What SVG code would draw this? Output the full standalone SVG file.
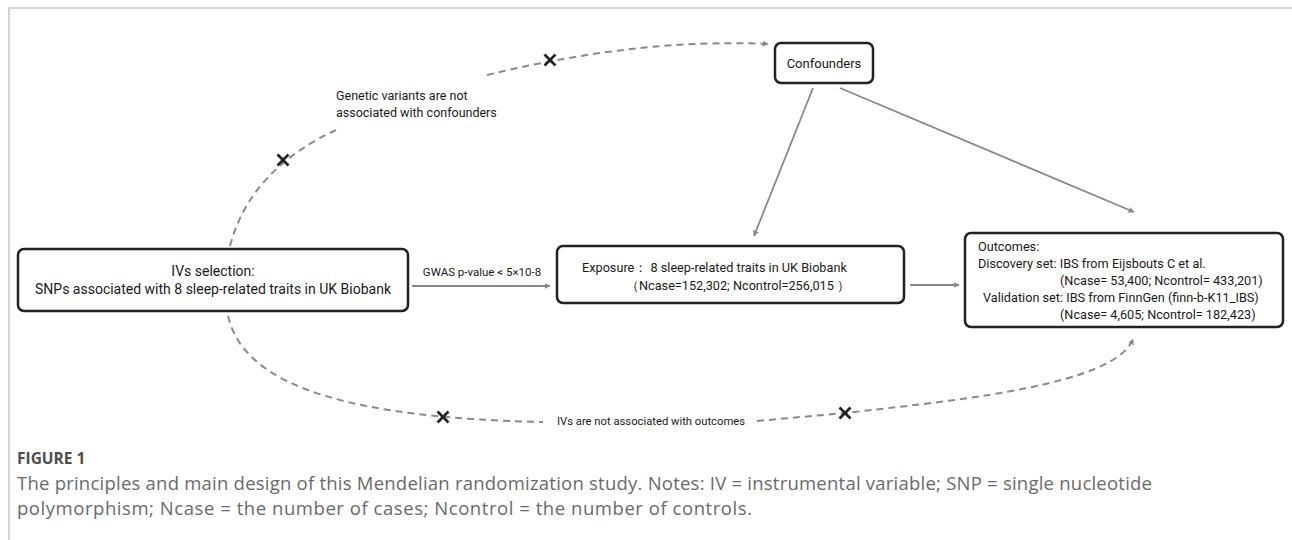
<svg xmlns="http://www.w3.org/2000/svg" width="1292" height="540" viewBox="0 0 1292 540">
<style>
.box{fill:#fff;stroke:#222;stroke-width:2.5}
.t{font-family:Roboto,"Liberation Sans",sans-serif;fill:#1a1a1a}
.s14{font-size:14px}
.s13{font-size:13px}
.s127{font-size:12.7px}
.s125{font-size:12.5px}
.s115{font-size:11.5px}
.s11{font-size:11px}
.ln{fill:none;stroke:#888;stroke-width:1.8}
.dash{fill:none;stroke:#8a8a8a;stroke-width:2;stroke-dasharray:7 5}
.x{stroke:#222;stroke-width:2.6;stroke-linecap:butt}
.cap{font-family:"Open Sans","Liberation Sans",sans-serif;fill:#6a6a6a;font-size:18.5px}
.fig{font-family:"Open Sans","Liberation Sans",sans-serif;fill:#4d4d4d;font-size:15.5px;font-weight:bold}
</style>
<defs>
<marker id="ah" viewBox="0 0 10 10" refX="9" refY="5" markerWidth="6" markerHeight="6" orient="auto" markerUnits="userSpaceOnUse">
<path d="M0,0 L10,5 L0,10 z" fill="#888"/>
</marker>
<g id="xm"><line class="x" x1="-5.5" y1="-5.5" x2="5.5" y2="5.5"/><line class="x" x1="-5.5" y1="5.5" x2="5.5" y2="-5.5"/></g>
</defs>
<rect width="1292" height="540" fill="#fff"/>
<path d="M9 540 V8 H1292" fill="none" stroke="#c8c8c8" stroke-width="1.5"/>

<g id="connectors">
<path class="dash" d="M230 246 Q250 170 336 130"/>
<path class="dash" d="M487 75 Q640 38 768 44" marker-end="url(#ah)"/>
<path class="dash" d="M228 316 C245 390 360 418 543 422"/>
<path class="dash" d="M757 421 L845 413 C960 400 1115 385 1133 339" marker-end="url(#ah)"/>
<path class="ln" d="M813 88 L754 236" marker-end="url(#ah)"/>
<path class="ln" d="M840 88 L1134 212" marker-end="url(#ah)"/>
<path class="ln" d="M412 286 L550 286" marker-end="url(#ah)"/>
<path class="ln" d="M910 285 L959 285" marker-end="url(#ah)"/>
<use href="#xm" x="283" y="160"/>
<use href="#xm" x="550" y="60"/>
<use href="#xm" x="443" y="417"/>
<use href="#xm" x="845" y="413"/>
<text class="t s125" x="336" y="100">Genetic variants are not</text>
<text class="t s125" x="336" y="117">associated with confounders</text>
<text class="t s115" x="482" y="276" text-anchor="middle">GWAS p-value  &lt; 5×10-8</text>
<text class="t s11" x="651" y="425" text-anchor="middle" textLength="188" lengthAdjust="spacingAndGlyphs">IVs are not associated with outcomes</text>
</g>

<g id="confounders">
<rect class="box" x="775" y="43" width="98" height="40" rx="6"/>
<text class="t s13" x="824" y="68" text-anchor="middle">Confounders</text>
</g>

<g id="ivs">
<rect class="box" x="18" y="249" width="390" height="62" rx="6"/>
<text class="t s14" x="213" y="276" text-anchor="middle">IVs selection:</text>
<text class="t s14" x="213" y="294" text-anchor="middle">SNPs associated with 8 sleep-related traits in UK Biobank</text>
</g>

<g id="exposure">
<rect class="box" x="557" y="246" width="347" height="57" rx="6"/>
<text class="t s127" x="582" y="272">Exposure：  8 sleep-related traits in UK Biobank</text>
<text class="t s127" x="626" y="290">（Ncase=152,302; Ncontrol=256,015 ）</text>
</g>

<g id="outcomes">
<rect class="box" x="965" y="233" width="318" height="94" rx="6"/>
<text class="t s127" x="978" y="251">Outcomes:</text>
<text class="t s127" x="978" y="268">Discovery set: IBS from Eijsbouts C et al.</text>
<text class="t s127" x="1060" y="285">(Ncase= 53,400; Ncontrol= 433,201)</text>
<text class="t s127" x="983" y="302">Validation set: IBS from FinnGen (finn-b-K11_IBS)</text>
<text class="t s127" x="1060" y="319">(Ncase= 4,605; Ncontrol= 182,423)</text>
</g>

<g id="caption">
<text class="fig" x="17" y="464">FIGURE 1</text>
<text class="cap" x="17" y="490" textLength="1135">The principles and main design of this Mendelian randomization study. Notes: IV = instrumental variable; SNP = single nucleotide</text>
<text class="cap" x="17" y="515" textLength="735">polymorphism; Ncase = the number of cases; Ncontrol = the number of controls.</text>
</g>
</svg>
